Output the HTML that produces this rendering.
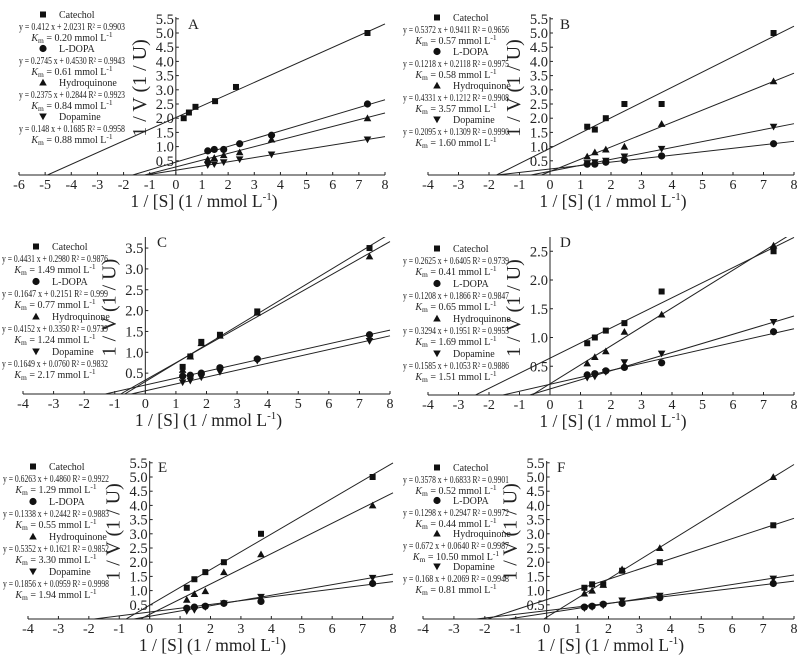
<!DOCTYPE html>
<html><head><meta charset="utf-8"><style>
html,body{margin:0;padding:0;background:#fff;}
svg, svg text, svg tspan{font-family:"Liberation Serif","DejaVu Serif","Times New Roman",serif;}
</style></head><body>
<svg id="fig" width="809" height="662" viewBox="0 0 809 662" xmlns="http://www.w3.org/2000/svg"></svg>
<script>
// shared x values (1/[S])
const xStd = [1.22, 1.47, 1.83, 2.44, 3.66, 7.33];
const xCatA = [0.3, 0.5, 0.75, 1.5, 2.3, 7.33];
const seriesNames = ["Catechol", "L-DOPA", "Hydroquinone", "Dopamine"];
// Panel A
const aCat = [2.0, 2.2, 2.4, 2.6, 3.1, 5.0];
const aDopa = [0.85, 0.9, 0.9, 1.1, 1.4, 2.5];
const aHyd = [0.55, 0.6, 0.7, 0.8, 1.25, 2.0];
const aDop = [0.35, 0.38, 0.45, 0.55, 0.72, 1.25];
const aSlope = [0.412, 0.2745, 0.2375, 0.148];
const aInt = [2.0231, 0.4530, 0.2844, 0.1685];
const aEq = ["y = 0.412 x + 2.0231   R² = 0.9903","y = 0.2745 x + 0.4530   R² = 0.9943","y = 0.2375 x + 0.2844   R² = 0.9923","y = 0.148 x + 0.1685   R² = 0.9958"];
const aKm = ["0.20","0.61","0.84","0.88"];
// Panel B
const bCat = [1.7, 1.6, 2.0, 2.5, 2.5, 5.0];
const bDopa = [0.38, 0.38, 0.45, 0.52, 0.67, 1.1];
const bHyd = [0.65, 0.8, 0.9, 1.0, 1.8, 3.3];
const bDop = [0.42, 0.45, 0.5, 0.65, 0.92, 1.7];
const bSlope = [0.5372, 0.1218, 0.4331, 0.2095];
const bInt = [0.9411, 0.2118, 0.1212, 0.1309];
const bEq = ["y = 0.5372 x + 0.9411  R² = 0.9656","y = 0.1218 x + 0.2118  R² = 0.9975","y = 0.4331 x + 0.1212   R² = 0.9908","y = 0.2095 x + 0.1309  R² = 0.9990"];
const bKm = ["0.57","0.58","3.57","1.60"];
// Panel C
const cCat = [0.65, 0.9, 1.25, 1.42, 1.98, 3.5];
const cDopa = [0.43, 0.45, 0.5, 0.63, 0.84, 1.42];
const cHyd = [0.58, 0.9, 1.22, 1.4, 1.95, 3.3];
const cDop = [0.28, 0.32, 0.4, 0.53, 0.8, 1.27];
const cSlope = [0.4431, 0.1647, 0.4152, 0.1649];
const cInt = [0.2980, 0.2151, 0.3350, 0.0760];
const cEq = ["y = 0.4431 x + 0.2980  R² = 0.9876","y = 0.1647 x + 0.2151  R² = 0.999","y = 0.4152 x + 0.3350  R² = 0.9739","y = 0.1649 x + 0.0760   R² = 0.9832"];
const cKm = ["1.49","0.77","1.24","2.17"];
// Panel D
const dCat = [0.9, 1.0, 1.12, 1.25, 1.8, 2.5];
const dDopa = [0.35, 0.37, 0.42, 0.48, 0.56, 1.1];
const dHyd = [0.55, 0.66, 0.76, 1.1, 1.4, 2.6];
const dDop = [0.3, 0.32, 0.4, 0.57, 0.72, 1.27];
const dSlope = [0.2625, 0.1208, 0.3294, 0.1585];
const dInt = [0.6405, 0.1866, 0.1951, 0.1053];
const dEq = ["y = 0.2625 x + 0.6405  R² = 0.9739","y = 0.1208 x + 0.1866  R² = 0.9847","y = 0.3294 x + 0.1951  R² = 0.9955","y = 0.1585 x + 0.1053  R² = 0.9886"];
const dKm = ["0.41","0.65","1.69","1.51"];
// Panel E
const eCat = [1.1, 1.4, 1.65, 2.0, 3.0, 5.0];
const eDopa = [0.38, 0.42, 0.45, 0.55, 0.62, 1.25];
const eHyd = [0.68, 0.88, 0.98, 1.65, 2.28, 4.0];
const eDop = [0.28, 0.32, 0.42, 0.55, 0.78, 1.45];
const eSlope = [0.6263, 0.1338, 0.5352, 0.1856];
const eInt = [0.4860, 0.2442, 0.1621, 0.0959];
const eEq = ["y = 0.6263 x + 0.4860  R² = 0.9922","y = 0.1338 x + 0.2442  R² = 0.9883","y = 0.5352 x + 0.1621   R² = 0.9852","y = 0.1856 x + 0.0959  R² = 0.9998"];
const eKm = ["1.29","0.55","3.30","1.94"];
// Panel F
const fCat = [1.1, 1.22, 1.22, 1.7, 2.0, 3.3];
const fDopa = [0.42, 0.45, 0.52, 0.55, 0.75, 1.25];
const fHyd = [0.9, 1.0, 1.2, 1.75, 2.5, 5.0];
const fDop = [0.38, 0.42, 0.48, 0.65, 0.82, 1.42];
const fSlope = [0.3578, 0.1298, 0.672, 0.168];
const fInt = [0.6833, 0.2947, 0.0640, 0.2069];
const fEq = ["y = 0.3578 x + 0.6833  R² = 0.9901","y = 0.1298 x + 0.2947  R² = 0.9972","y = 0.672 x + 0.0640   R² = 0.9987","y = 0.168 x + 0.2069   R² = 0.9948"];
const fKm = ["0.52","0.44","10.50","0.81"];

const NS = "http://www.w3.org/2000/svg";
const svg = document.getElementById('fig');
function mk(tag, attrs, parent){const e=document.createElementNS(NS,tag);for(const k in attrs)e.setAttribute(k,attrs[k]);(parent||svg).appendChild(e);return e;}
function marker(g, type, cx, cy){
  let e;
  if(type===0){e=mk('rect',{x:cx-3,y:cy-3,width:6,height:6,fill:'#111'},g);}
  else if(type===1){e=mk('circle',{cx:cx,cy:cy,r:3.6,fill:'#111'},g);}
  else if(type===2){e=mk('polygon',{points:`${cx},${cy-3.8} ${cx+3.8},${cy+3} ${cx-3.8},${cy+3}`,fill:'#111'},g);}
  else {e=mk('polygon',{points:`${cx},${cy+3.8} ${cx+3.8},${cy-3} ${cx-3.8},${cy-3}`,fill:'#111'},g);}
  return e;
}
function panel(p){
  const g=mk('g',{});
  
  
  const sx=v=>p.x0+(v-p.xmin)*(p.x1-p.x0)/(p.xmax-p.xmin);
  const sy=v=>p.base-v*p.ppu;
  const ax=sx(0);
  const clipId='clip'+p.id;
  const cp=mk('clipPath',{id:clipId},g);
  mk('rect',{x:p.x0,y:p.top,width:p.x1-p.x0+1,height:p.base-p.top},cp);
  const xa=mk('line',{x1:p.x0,y1:p.base,x2:p.x1,y2:p.base,stroke:'#222','stroke-width':1},g);
  
  
  const ya=mk('line',{x1:ax,y1:p.top,x2:ax,y2:p.base,stroke:'#222','stroke-width':1},g);
  
  
  for(let v=p.xmin;v<=p.xmax;v++){
    const x=sx(v);
    mk('line',{x1:x,y1:p.base,x2:x,y2:p.base-3,stroke:'#222'},g);
    const t=mk('text',{x:x,y:p.base+14,'font-size':14,'text-anchor':'middle',fill:'#222'},g);
    t.textContent=String(v);
    
    
  }
  for(const v of p.yticks){
    const y=sy(v);
    mk('line',{x1:ax,y1:y,x2:ax+3,y2:y,stroke:'#222'},g);
    const t=mk('text',{x:ax-2,y:y+5,'font-size':14.5,'text-anchor':'end',fill:'#222'},g);
    t.textContent=v.toFixed(1);
    
    
  }
  const xt=mk('text',{x:(p.x0+p.x1)/2+2,y:p.base+32,'font-size':17.5,'text-anchor':'middle',fill:'#222'},g);
  xt.innerHTML='1 / [S] (1 / mmol L<tspan font-size="11" dy="-7">-1</tspan><tspan dy="7">)</tspan>';
  
  
  const yc=(p.top+p.base)/2-8, yx=ax-30;
  const yt=mk('text',{x:yx,y:yc,'font-size':20,'text-anchor':'middle',fill:'#222',transform:`rotate(-90 ${yx} ${yc})`},g);
  yt.textContent='1 / V (1 / U)';
  
  
  const lb=mk('text',{x:p.lx,y:p.ly,'font-size':15,fill:'#222'},g);
  lb.textContent=p.id;
  
  
  const lg=mk('g',{'clip-path':`url(#${clipId})`},g);
  for(let i=0;i<4;i++){
    const a=p.slope[i],b=p.inter[i];
    const xs=Math.max(p.xmin,-b/a);
    const ln=mk('line',{x1:sx(xs),y1:sy(a*xs+b),x2:sx(p.xmax),y2:sy(a*p.xmax+b),stroke:'#222','stroke-width':1},lg);
    
    
  }
  for(let i=0;i<4;i++){
    const xsArr=p.xs[i], ys=p.ys[i];
    for(let j=0;j<ys.length;j++){
      const m=marker(g,i,sx(xsArr[j]),sy(ys[j]));
      
      
    }
  }
  for(let i=0;i<4;i++){
    const y0=p.legY+i*p.legStep;
    const lm=marker(g,i,p.legMx,y0-3.5);
    
    
    const n=mk('text',{x:p.legMx+16,y:y0,'font-size':10,fill:'#222'},g);
    n.textContent=seriesNames[i];
    
    
    const eq=mk('text',{x:p.legCx,y:y0+12,'font-size':10,'text-anchor':'middle',fill:'#222',textLength:106,lengthAdjust:'spacingAndGlyphs'},g);
    eq.textContent=p.eq[i];
    
    
    const km=mk('text',{x:p.legCx,y:y0+23,'font-size':10,'text-anchor':'middle',fill:'#222'},g);
    km.innerHTML='<tspan font-style="italic">K</tspan><tspan font-size="7.5" dy="2">m</tspan><tspan dy="-2"> = '+p.km[i]+' mmol L</tspan><tspan font-size="7.5" dy="-4">-1</tspan>';
    
    
  }
}
const y55=[0.5,1.0,1.5,2.0,2.5,3.0,3.5,4.0,4.5,5.0,5.5];
panel({id:'A',xmin:-6,xmax:8,x0:19,x1:385,base:175,top:17,ppu:28.4,yticks:y55,lx:188,ly:29,
  slope:aSlope,inter:aInt,xs:[xCatA,xStd,xStd,xStd],ys:[aCat,aDopa,aHyd,aDop],eq:aEq,km:aKm,legY:18,legStep:34,legMx:43,legCx:72});
panel({id:'B',xmin:-4,xmax:8,x0:428,x1:794,base:175,top:17,ppu:28.4,yticks:y55,lx:560,ly:29,
  slope:bSlope,inter:bInt,xs:[xStd,xStd,xStd,xStd],ys:[bCat,bDopa,bHyd,bDop],eq:bEq,km:bKm,legY:21,legStep:34,legMx:437,legCx:456});
panel({id:'C',xmin:-4,xmax:8,x0:23,x1:390,base:394,top:237,ppu:41.7,yticks:[0.5,1.0,1.5,2.0,2.5,3.0,3.5],lx:157,ly:247,
  slope:cSlope,inter:cInt,xs:[xStd,xStd,xStd,xStd],ys:[cCat,cDopa,cHyd,cDop],eq:cEq,km:cKm,legY:250,legStep:35,legMx:36,legCx:55});
panel({id:'D',xmin:-4,xmax:8,x0:428,x1:794,base:395,top:237,ppu:57.5,yticks:[0.5,1.0,1.5,2.0,2.5],lx:560,ly:247,
  slope:dSlope,inter:dInt,xs:[xStd,xStd,xStd,xStd],ys:[dCat,dDopa,dHyd,dDop],eq:dEq,km:dKm,legY:252,legStep:35,legMx:437,legCx:456});
panel({id:'E',xmin:-4,xmax:8,x0:28,x1:393,base:619,top:461,ppu:28.4,yticks:y55,lx:158,ly:472,
  slope:eSlope,inter:eInt,xs:[xStd,xStd,xStd,xStd],ys:[eCat,eDopa,eHyd,eDop],eq:eEq,km:eKm,legY:470,legStep:35,legMx:33,legCx:56});
panel({id:'F',xmin:-4,xmax:8,x0:423,x1:794,base:619,top:461,ppu:28.4,yticks:y55,lx:557,ly:472,
  slope:fSlope,inter:fInt,xs:[xStd,xStd,xStd,xStd],ys:[fCat,fDopa,fHyd,fDop],eq:fEq,km:fKm,legY:471,legStep:33,legMx:437,legCx:456});
</script>
</body></html>
